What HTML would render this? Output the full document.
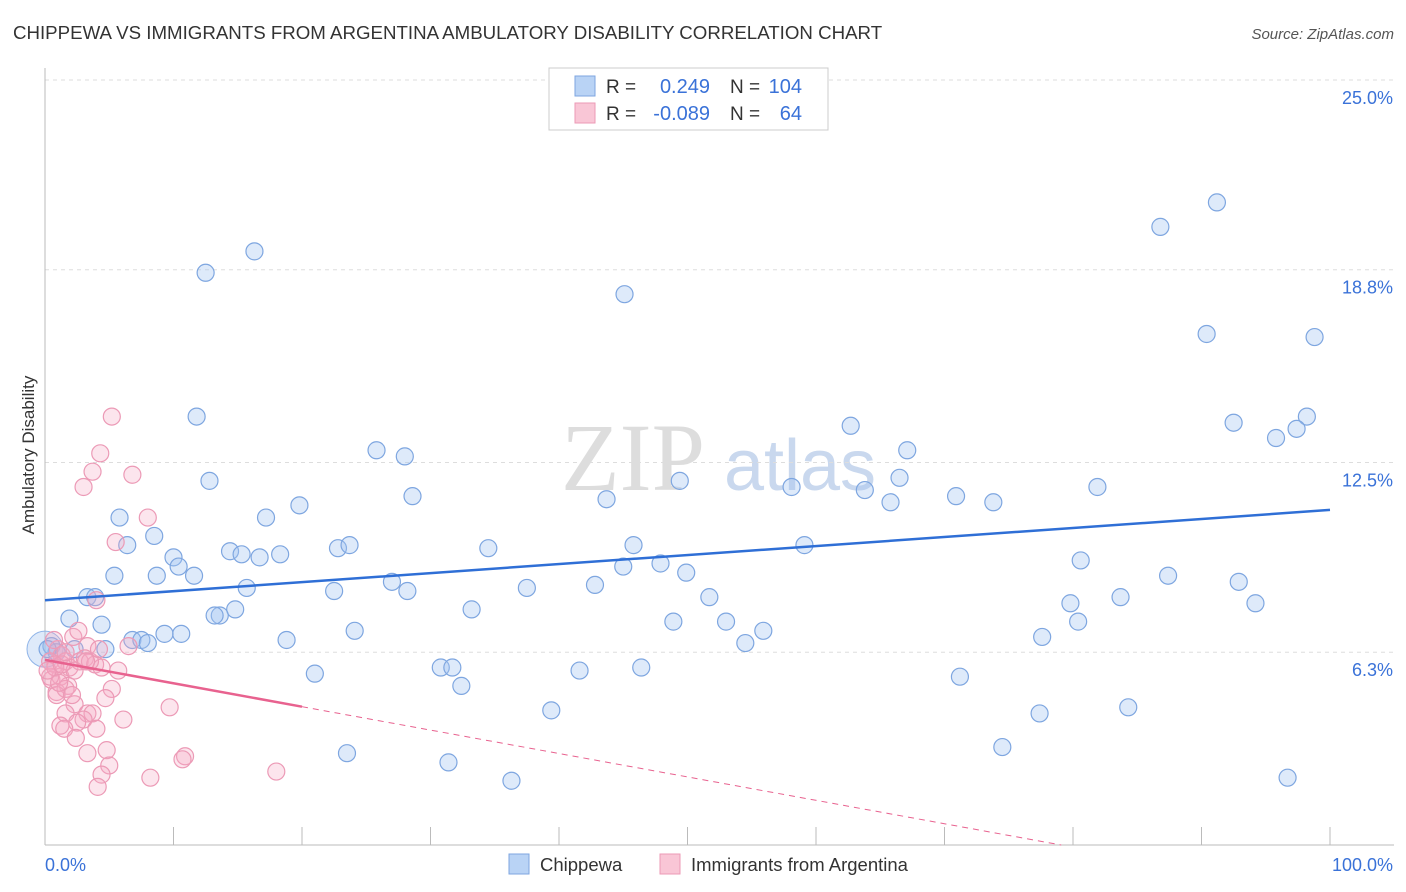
<!DOCTYPE html>
<html><head><meta charset="utf-8">
<style>
body{margin:0;background:#fff;font-family:"Liberation Sans",sans-serif;}
#wrap{position:relative;width:1406px;height:892px;overflow:hidden;}
</style></head>
<body><div id="wrap">
<svg id="svg" width="1406" height="892" xmlns="http://www.w3.org/2000/svg">
<text x="13" y="39" font-size="18.7" fill="#333">CHIPPEWA VS IMMIGRANTS FROM ARGENTINA AMBULATORY DISABILITY CORRELATION CHART</text>
<text x="1394" y="39" font-size="15" font-style="italic" fill="#555" text-anchor="end">Source: ZipAtlas.com</text>
<text x="633" y="490" font-size="96" font-family="Liberation Serif,serif" fill="#ddd" text-anchor="middle">ZIP</text>
<text x="800" y="490" font-size="72" fill="#c9d8ee" text-anchor="middle">atlas</text>
<text transform="translate(34,455) rotate(-90)" font-size="17" fill="#333" text-anchor="middle">Ambulatory Disability</text>
<g id="grid"></g><g id="marks"></g>
<g>
<rect x="549" y="68" width="279" height="62" fill="#fff" stroke="#ccc"/>
<rect x="575" y="76" width="20" height="20" fill="#b9d3f5" stroke="#7ea6e0"/>
<rect x="575" y="103" width="20" height="20" fill="#f9c6d6" stroke="#ec9ab6"/>
<text x="606" y="93" font-size="19" fill="#333">R = </text>
<text x="710" y="93" font-size="20" fill="#3a72d8" text-anchor="end">0.249</text>
<text x="730" y="93" font-size="19" fill="#333">N =</text>
<text x="802" y="93" font-size="20" fill="#3a72d8" text-anchor="end">104</text>
<text x="606" y="120" font-size="19" fill="#333">R = </text>
<text x="710" y="120" font-size="20" fill="#3a72d8" text-anchor="end">-0.089</text>
<text x="730" y="120" font-size="19" fill="#333">N =</text>
<text x="802" y="120" font-size="20" fill="#3a72d8" text-anchor="end">64</text>
</g>
<g>
<rect x="509" y="854" width="20" height="20" fill="#b9d3f5" stroke="#7ea6e0"/>
<text x="540" y="871" font-size="18.5" fill="#333">Chippewa</text>
<rect x="660" y="854" width="20" height="20" fill="#f9c6d6" stroke="#ec9ab6"/>
<text x="691" y="871" font-size="18.5" fill="#333">Immigrants from Argentina</text>
</g>
</svg></div>
<script>
const yTicks=[6.3,12.5,18.8,25.0];
const xTicks=[0,10,20,30,40,50,60,70,80,90,100];
const blueX=[12.5,16.3,45.1,86.8,91.2,90.4,98.8,11.8,62.7,92.5,98.2,97.4,95.8,25.8,28.0,67.1,12.8,49.4,66.5,28.6,58.1,63.8,81.9,19.8,43.7,65.8,70.9,73.8,5.8,17.2,6.4,8.5,14.4,15.3,16.7,18.3,22.8,23.7,34.5,45.8,59.1,10.0,10.4,11.6,5.4,8.7,80.6,45.0,47.9,49.9,27.0,15.7,22.5,28.2,37.5,42.8,87.4,92.9,83.7,3.3,3.9,51.7,79.8,94.2,1.9,14.8,13.6,33.2,13.2,4.4,53.0,48.9,80.4,24.1,10.6,9.3,6.8,7.5,8.0,18.8,55.9,54.5,77.6,2.3,4.7,0.5,0.9,0.2,30.8,31.7,46.4,21.0,41.6,32.4,71.2,39.4,77.4,84.3,23.5,74.5,31.4,36.3,96.7];
const blueY=[18.7,19.4,18.0,20.2,21.0,16.7,16.6,14.0,13.7,13.8,14.0,13.6,13.3,12.9,12.7,12.9,11.9,11.9,12.0,11.4,11.7,11.6,11.7,11.1,11.3,11.2,11.4,11.2,10.7,10.7,9.8,10.1,9.6,9.5,9.4,9.5,9.7,9.8,9.7,9.8,9.8,9.4,9.1,8.8,8.8,8.8,9.3,9.1,9.2,8.9,8.6,8.4,8.3,8.3,8.4,8.5,8.8,8.6,8.1,8.1,8.1,8.1,7.9,7.9,7.4,7.7,7.5,7.7,7.5,7.2,7.3,7.3,7.3,7.0,6.9,6.9,6.7,6.7,6.6,6.7,7.0,6.6,6.8,6.4,6.4,6.5,6.3,6.4,5.8,5.8,5.8,5.6,5.7,5.2,5.5,4.4,4.3,4.5,3.0,3.2,2.7,2.1,2.2];
const pinkX=[5.2,4.3,3.7,6.8,3.0,8.0,5.5,4.0,2.2,2.6,3.3,1.0,1.3,0.4,0.8,1.6,1.9,2.7,3.1,3.9,4.4,5.7,6.5,0.5,1.2,1.8,2.3,3.5,0.9,1.6,5.2,4.7,2.3,0.9,0.4,9.7,3.3,3.7,6.1,1.6,3.0,1.2,2.5,4.0,1.5,2.4,3.3,4.8,5.0,4.4,4.1,8.2,10.9,10.7,18.0,0.8,0.2,1.3,1.1,3.2,4.2,0.7,1.6,2.1];
const pinkY=[14.0,12.8,12.2,12.1,11.7,10.7,9.9,8.0,6.8,7.0,6.5,6.4,6.2,6.0,5.9,6.0,5.8,6.0,6.1,5.9,5.8,5.7,6.5,5.4,5.5,5.2,5.7,6.0,5.0,5.1,5.1,4.8,4.6,4.9,5.5,4.5,4.3,4.3,4.1,4.3,4.1,3.9,4.0,3.8,3.8,3.5,3.0,3.1,2.6,2.3,1.9,2.2,2.9,2.8,2.4,5.8,5.7,5.9,5.3,6.0,6.4,6.7,6.3,4.9];
const blueTrend=[8.0,10.95];
const pinkTrend=[6.05,-1.6];
const pinkSolidEnd=20;

const X=v=>45+v*12.85, Y=v=>845-v*30.6;
const NS='http://www.w3.org/2000/svg';
const grid=document.getElementById('grid'), marks=document.getElementById('marks');
function mk(tag,attrs,parent){const e=document.createElementNS(NS,tag);for(const k in attrs)e.setAttribute(k,attrs[k]);parent.appendChild(e);return e;}
yTicks.forEach(t=>{
 const l=mk('line',{x1:45,x2:1394,y1:Y(t),y2:Y(t),stroke:'#ddd','stroke-dasharray':'4,4'},grid);
 
 
 const tx=mk('text',{x:1393,y:Y(t)+24,'font-size':18,fill:'#3a72d8','text-anchor':'end'},grid);
 tx.textContent=t.toFixed(1)+'%';
 
 
});
const ax=mk('line',{x1:45,x2:1394,y1:845,y2:845,stroke:'#bbb'},grid);


const ay=mk('line',{x1:45,x2:45,y1:68,y2:845,stroke:'#bbb'},grid);


xTicks.forEach(t=>{
 const l=mk('line',{x1:X(t),x2:X(t),y1:827,y2:845,stroke:'#bbb'},grid);
 
 
});
[[0,'0.0%',45,'start'],[100,'100.0%',1393,'end']].forEach(a=>{
 const tx=mk('text',{x:a[2],y:871,'font-size':18,fill:'#3a72d8','text-anchor':a[3]},grid);
 tx.textContent=a[1];
 
 
});
const big=mk('circle',{cx:X(0),cy:Y(6.4),r:18,fill:'rgba(160,195,240,0.35)',stroke:'#8fb4e8'},marks);


blueX.forEach((x,i)=>{
 const c=mk('circle',{cx:X(x),cy:Y(blueY[i]),r:8.5,fill:'rgba(160,195,240,0.35)',stroke:'#7ea6e0','stroke-width':1.2},marks);
 
 
});
pinkX.forEach((x,i)=>{
 const c=mk('circle',{cx:X(x),cy:Y(pinkY[i]),r:8.5,fill:'rgba(245,170,195,0.3)',stroke:'#ec9ab6','stroke-width':1.2},marks);
 
 
});
const bl=mk('line',{x1:X(0),y1:Y(blueTrend[0]),x2:X(100),y2:Y(blueTrend[1]),stroke:'#2f6fd6','stroke-width':2.5},marks);


const pv=x=>pinkTrend[0]+(pinkTrend[1]-pinkTrend[0])*x/100;
const ps=mk('line',{x1:X(0),y1:Y(pv(0)),x2:X(pinkSolidEnd),y2:Y(pv(pinkSolidEnd)),stroke:'#e8628f','stroke-width':2.5},marks);


const xz=pinkTrend[0]/(pinkTrend[0]-pinkTrend[1])*100;
const pd=mk('line',{x1:X(pinkSolidEnd),y1:Y(pv(pinkSolidEnd)),x2:X(xz),y2:Y(0),stroke:'#e8628f','stroke-width':1,'stroke-dasharray':'6,5'},marks);


</script>
</body></html>
